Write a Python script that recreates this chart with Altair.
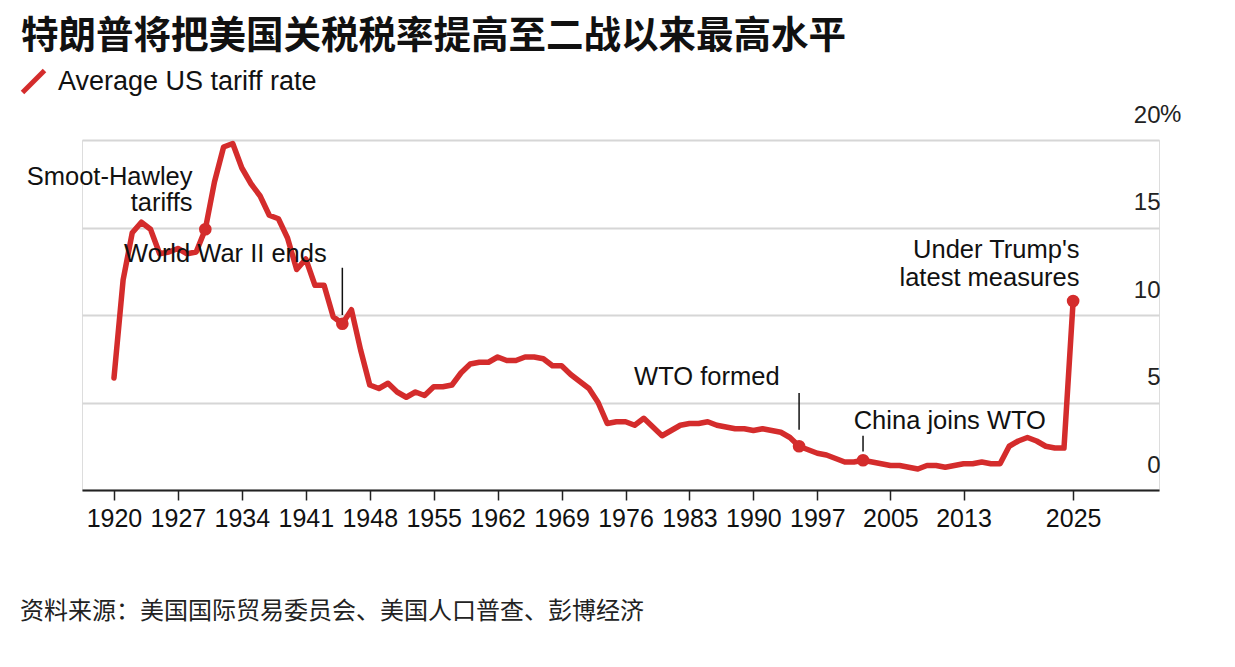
import altair as alt
import pandas as pd

# ---------------- data ----------------
years = list(range(1920, 2026))
rates = [
    6.4, 12.0, 14.7, 15.3, 14.9, 13.5, 13.6, 13.8, 13.5, 13.6,   # 1920s
    14.9, 17.6, 19.6, 19.8, 18.4, 17.5, 16.8, 15.7, 15.5, 14.4,  # 1930s
    12.6, 13.2, 11.7, 11.7, 9.9, 9.5, 10.3, 8.0, 6.0, 5.8,       # 1940s
    6.1, 5.6, 5.3, 5.6, 5.4, 5.9, 5.9, 6.0, 6.7, 7.2,            # 1950s
    7.3, 7.3, 7.6, 7.4, 7.4, 7.6, 7.6, 7.5, 7.1, 7.1,            # 1960s
    6.6, 6.2, 5.8, 5.0, 3.8, 3.9, 3.9, 3.7, 4.1, 3.6,            # 1970s
    3.1, 3.4, 3.7, 3.8, 3.8, 3.9, 3.7, 3.6, 3.5, 3.5,            # 1980s
    3.4, 3.5, 3.4, 3.3, 3.0, 2.5, 2.3, 2.1, 2.0, 1.8,            # 1990s
    1.6, 1.6, 1.7, 1.6, 1.5, 1.4, 1.4, 1.3, 1.2, 1.4,            # 2000s
    1.4, 1.3, 1.4, 1.5, 1.5, 1.6, 1.5, 1.5, 2.5, 2.8,            # 2010s
    3.0, 2.8, 2.5, 2.4, 2.4, 10.8,                               # 2020s
]
series_name = "Average US tariff rate"
highlight_years = [1930, 1945, 1995, 2002, 2025]

x_ticks = [1920, 1927, 1934, 1941, 1948, 1955, 1962, 1969, 1976, 1983, 1990, 1997, 2005, 2013, 2025]
y_ticks = [0, 5, 10, 15, 20]

ann_text = ["Smoot-Hawley", "tariffs", "World War II ends", "WTO formed",
            "China joins WTO", "Under Trump's", "latest measures"]
ann_year = [1928.6, 1928.6, 1932.2, 1984.9, 2011.5, 2025.7, 2025.7]
ann_value = [17.9, 16.4, 13.5, 6.45, 3.95, 13.7, 12.1]
ann_align = ["right", "right", "center", "center", "center", "right", "right"]

leader_year = [1945, 1995, 2002]
leader_top = [12.7, 5.55, 3.1]
leader_bottom = [10.0, 3.45, 2.2]

title_text = "特朗普将把美国关税税率提高至二战以来最高水平"
source_text = "资料来源：美国国际贸易委员会、美国人口普查、彭博经济"

RED = "#d42c2c"
FONT = "Liberation Sans"
CJK = "Noto Sans CJK SC"

df = pd.DataFrame({"year": years, "rate": rates, "series": series_name})
hl = df[df["year"].isin(highlight_years)]
ann = pd.DataFrame({"text": ann_text, "year": ann_year, "value": ann_value, "align": ann_align})
leaders = pd.DataFrame({"year": leader_year, "top": leader_top, "bottom": leader_bottom})
pct = pd.DataFrame({"year": [2034.4], "value": [20], "text": ["%"]})

W, H = 1077, 350
xscale = alt.Scale(domain=[1916.5, 2034.4], nice=False, zero=False)
yscale = alt.Scale(domain=[0, 20], nice=False)

x_axis = alt.Axis(values=x_ticks, format="d", grid=False, domain=True, domainColor="#222",
                  domainWidth=2, ticks=True, tickColor="#222", tickSize=10, tickWidth=1.5,
                  labelFontSize=25, labelFont=FONT, labelColor="#111", labelPadding=6,
                  labelFlush=False, labelOverlap=False, title=None, zindex=1)
y_axis = alt.Axis(orient="right", values=y_ticks, grid=True, gridColor="#d6d6d6", gridWidth=2,
                  domain=False, ticks=False, labelAlign="right", labelBaseline="middle",
                  labelOffset=-25, labelPadding=1, labelFontSize=24, labelFont=FONT,
                  labelColor="#222", title=None)

line = alt.Chart(df).mark_line(strokeWidth=5.5, strokeJoin="round", strokeCap="round").encode(
    x=alt.X("year:Q", scale=xscale, axis=x_axis),
    y=alt.Y("rate:Q", scale=yscale, axis=y_axis),
    color=alt.Color("series:N",
                    scale=alt.Scale(domain=[series_name], range=[RED]),
                    legend=alt.Legend(title=None, orient="none", legendX=-62, legendY=-72,
                                      symbolType="M-1,1L1,-1", symbolSize=484,
                                      symbolStrokeWidth=5, labelFontSize=27, labelFont=FONT,
                                      labelColor="#111", labelOffset=11, labelLimit=0)),
)

points = alt.Chart(hl).mark_circle(size=160, color=RED, opacity=1).encode(
    x=alt.X("year:Q", scale=xscale),
    y=alt.Y("rate:Q", scale=yscale),
)

rules = alt.Chart(leaders).mark_rule(color="#111", strokeWidth=1.5).encode(
    x=alt.X("year:Q", scale=xscale),
    y=alt.Y("top:Q", scale=yscale),
    y2="bottom:Q",
)

def ann_layer(align):
    return alt.Chart(ann[ann["align"] == align]).mark_text(
        align=align, baseline="middle", fontSize=25.5, font=FONT, color="#111"
    ).encode(
        x=alt.X("year:Q", scale=xscale),
        y=alt.Y("value:Q", scale=yscale),
        text="text:N",
    )

pct_text = alt.Chart(pct).mark_text(align="left", baseline="middle", dy=-25, dx=1,
                                    fontSize=24, font=FONT, color="#222").encode(
    x=alt.X("year:Q", scale=xscale),
    y=alt.Y("value:Q", scale=yscale),
    text="text:N",
)

title = alt.Chart(pd.DataFrame({"t": [title_text]})).mark_text(
    align="left", baseline="middle", fontSize=37.5, font=CJK, fontWeight="bold", color="#111"
).encode(x=alt.value(-61), y=alt.value(-103), text="t:N")

footer = alt.Chart(pd.DataFrame({"t": [source_text]})).mark_text(
    align="left", baseline="middle", fontSize=24, font=CJK, color="#222"
).encode(x=alt.value(-62), y=alt.value(H + 122), text="t:N")

chart = alt.layer(line, rules, points, ann_layer("right"), ann_layer("center"), pct_text,
                  title, footer).properties(
    width=W, height=H,
    autosize=alt.AutoSizeParams(type="none"),
    padding={"left": 74, "top": 132, "right": 56, "bottom": 160},
).configure_view(stroke=None).configure(background="white")

chart.save("out.html", embed_options={"renderer": "svg", "actions": False})
